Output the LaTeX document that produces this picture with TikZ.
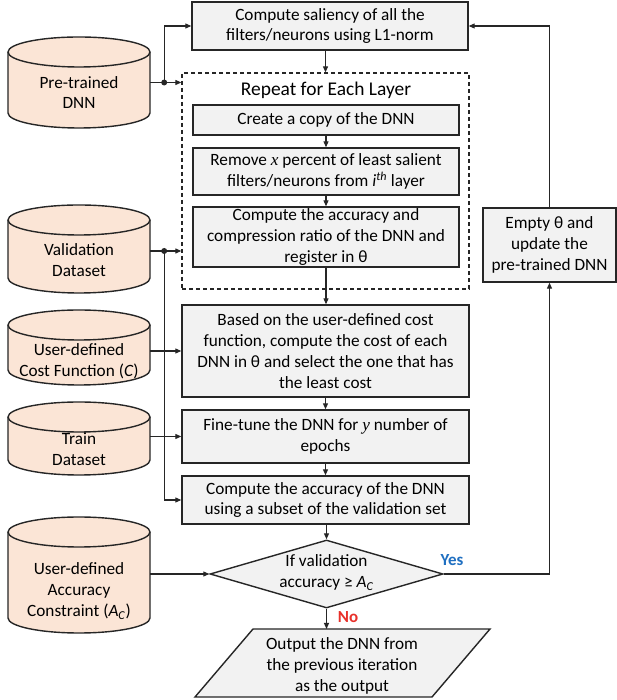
\documentclass[tikz,border=0pt]{standalone}
\usepackage{fontspec}
\setmainfont{Carlito}
\newfontfamily\varfont{Liberation Serif}
\usetikzlibrary{arrows.meta,shapes.geometric,calc}
\definecolor{boxfill}{HTML}{F2F2F2}
\definecolor{dbfill}{HTML}{FBE5D6}
\definecolor{edge}{HTML}{262626}
\definecolor{yesblue}{HTML}{1F6FC1}
\definecolor{nored}{HTML}{E8302A}
\newcommand{\var}[1]{{\varfont\itshape #1}}
% database cylinder: name, top y, bottom y, text y, text
\newcommand{\dbcyl}[5]{%
  \filldraw[dbshape] (8,#2-15) -- (8,#3+15)
    arc[start angle=180,end angle=360,x radius=71,y radius=15] -- (150,#2-15)
    arc[start angle=0,end angle=180,x radius=71,y radius=15] -- cycle;
  \draw[dbedge] (8,#2-15) arc[start angle=180,end angle=360,x radius=71,y radius=15];
  \node[dbarea, minimum height={(#2-#3)*1bp}] (#1) at (79,{(#2+#3)/2}) {};
  \node[txt] at (79,#4) {#5};
}
\begin{document}
\begin{tikzpicture}[x=1bp,y=1bp,
  txt/.style={font=\fontsize{17.3}{21}\selectfont, align=center, inner sep=0pt},
  procbox/.style={txt, draw=edge, line width=1.4bp, fill=boxfill, minimum width=287bp},
  innerbox/.style={procbox, minimum width=266bp},
  loopbox/.style={draw=edge, line width=1.3bp, dash pattern=on 4bp off 3bp,
    minimum width=287bp, minimum height=216bp, inner sep=0pt},
  dbshape/.style={draw=edge, line width=1.4bp, fill=dbfill},
  dbedge/.style={draw=edge, line width=1.4bp},
  dbarea/.style={minimum width=142bp, inner sep=0pt},
  decision/.style={diamond, draw=edge, line width=1.4bp, fill=boxfill,
    minimum width=233bp, minimum height=68bp, inner sep=0pt},
  arr/.style={draw=edge, line width=1.1bp, -{Triangle[length=6bp,width=5bp]}},
  wire/.style={draw=edge, line width=1.1bp},
  junction/.style={circle, fill=edge, inner sep=0pt, minimum size=6bp},
  answer/.style={font=\fontsize{17}{21}\selectfont\bfseries, inner sep=0pt}
]
\useasboundingbox[fill=white] (0,0) rectangle (617,700);

% data sources
\dbcyl{pre}{663}{572}{607.5}{Pre-trained\\DNN}
\dbcyl{val}{495}{407}{440}{Validation\\Dataset}
\dbcyl{cost}{390}{315}{338.5}{User-defined\\Cost Function (\textit{C})}
\dbcyl{train}{298}{225}{251}{Train\\Dataset}
\dbcyl{acon}{183}{67}{109}{User-defined\\Accuracy\\Constraint (\textit{A}\textsubscript{\textit{C}})}

% main flow
\node[procbox, minimum width=276bp, minimum height=48bp] (sal) at (330,674)
  {Compute saliency of all the\\filters/neurons using L1-norm};
\node[loopbox] (rep) at (325.5,519) {};
\node[txt, font=\fontsize{19.5}{23}\selectfont] (reptitle) at (326,610) {Repeat for Each Layer};
\node[innerbox, minimum height=30bp] (copy) at (326,580) {Create a copy of the DNN};
\node[innerbox, minimum height=47bp] (remove) at (326,528.5)
  {Remove \var{x} percent of least salient\\filters/neurons from \textit{i}\textsuperscript{\textit{th}} layer};
\node[innerbox, minimum height=60bp] (reg) at (326,463)
  {Compute the accuracy and\\compression ratio of the DNN and\\register in θ};
\node[procbox, minimum height=92bp] (based) at (325.5,349)
  {Based on the user-defined cost\\function, compute the cost of each\\DNN in θ and select the one that has\\the least cost};
\node[procbox, minimum height=53bp] (fine) at (325.5,263.5)
  {Fine-tune the DNN for \var{y} number of\\epochs};
\node[procbox, minimum height=48bp] (evalacc) at (325.5,200)
  {Compute the accuracy of the DNN\\using a subset of the validation set};
\node[decision] (dec) at (326.5,126) {};
\node[txt] (dectext) at (326.5,127.5)
  {If validation\\accuracy ≥ \textit{A}\textsubscript{\textit{C}}};
\node[procbox, minimum width=133bp, minimum height=74bp] (empty) at (549.5,455)
  {Empty θ and\\update the\\pre-trained DNN};

% output parallelogram
\coordinate (outc) at (342.5,37);
\filldraw[draw=edge, line width=1.4bp, fill=boxfill]
  ($(outc)+(-147.5,-34)$) -- ($(outc)+(89.5,-34)$) -- ($(outc)+(147.5,34)$)
  -- ($(outc)+(-89.5,34)$) -- cycle;
\node[txt] (out) at (342,34) {Output the DNN from\\the previous iteration\\as the output};
\coordinate (outtop) at (325.5,71);

% junctions
\coordinate (j1) at ($(pre.east)+(14,0)$);
\coordinate (j2) at ($(val.east)+(14,-2)$);

% connectors from the data sources
\draw[wire] (pre.east) -- (j1);
\draw[arr] (j1) -- (j1 -| rep.west);
\draw[arr] (j1) |- (sal.west);
\draw[wire] (val.east |- j2) -- (j2);
\draw[arr] (j2) -- (j2 -| rep.west);
\draw[arr] (j2) |- (evalacc.west);
\draw[arr] (cost.east |- based.west) -- (based.west);
\draw[arr] (train.east |- fine.west) -- (fine.west);
\draw[arr] (acon.east |- dec.west) -- (dec.west);
\node[junction] at (j1) {};
\node[junction] at (j2) {};

% main flow connectors
\draw[arr] (sal.south -| rep.north) -- (rep.north);
\draw[arr] (copy.south) -- (remove.north);
\draw[arr] (remove.south) -- (reg.north);
\draw[arr] (reg.south) -- (reg.south |- based.north);
\draw[arr] (based.south) -- (fine.north);
\draw[arr] (fine.south) -- (evalacc.north);
\draw[arr] (evalacc.south -| dec.north) -- (dec.north);
\draw[arr] (dec.south) -- (dec.south |- outtop);

% feedback loop
\draw[arr] (dec.east) -| (empty.south);
\draw[arr] (empty.north) |- (sal.east);

% decision labels
\node[answer, text=yesblue] at (452,140) {Yes};
\node[answer, text=nored] at (348,83) {No};
\end{tikzpicture}
\end{document}
